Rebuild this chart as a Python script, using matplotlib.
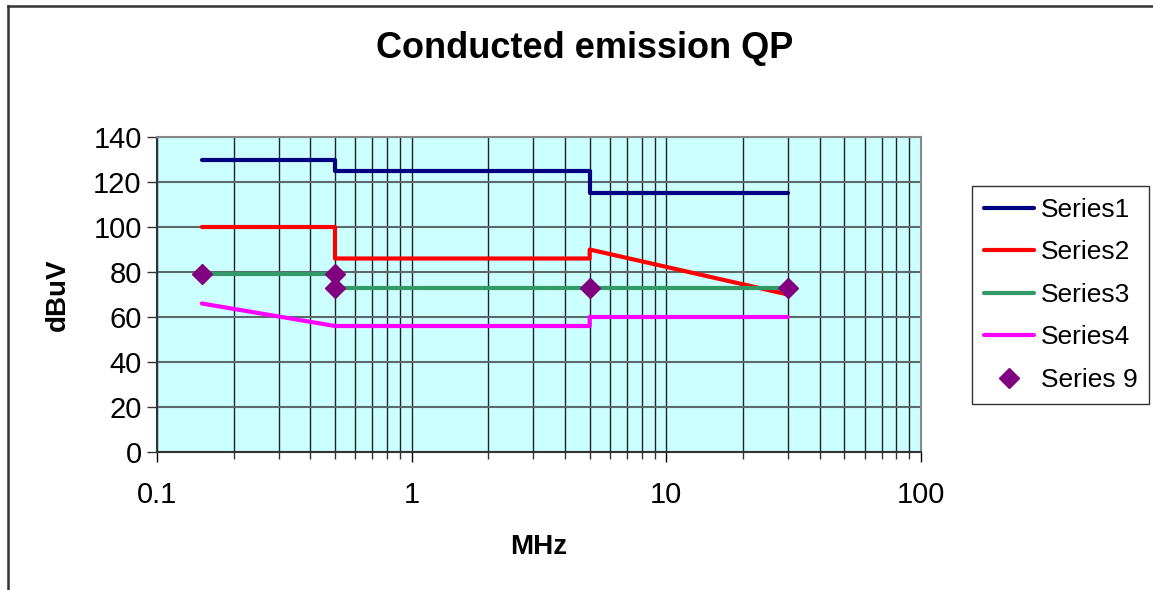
import matplotlib.pyplot as plt
from matplotlib.lines import Line2D
from matplotlib.ticker import LogLocator, NullFormatter

plt.rcParams['font.family'] = ['Liberation Sans', 'DejaVu Sans']

# Limit lines (frequency in MHz, level in dBuV)
s1_f = [0.15, 0.5, 0.5, 5, 5, 30]
s1_v = [130, 130, 125, 125, 115, 115]
s2_f = [0.15, 0.5, 0.5, 5, 5, 30]
s2_v = [100, 100, 86, 86, 90, 70]
s3_f = [0.15, 0.5, 0.5, 5, 30]
s3_v = [79, 79, 73, 73, 73]
s4_f = [0.15, 0.5, 5, 5, 30]
s4_v = [66, 56, 56, 60, 60]
s9_f = [0.15, 0.5, 0.5, 5, 30]
s9_v = [79, 79, 73, 73, 73]

y_ticks = [0, 20, 40, 60, 80, 100, 120, 140]
x_ticks = [0.1, 1, 10, 100]
x_tick_labels = ['0.1', '1', '10', '100']

fig = plt.figure(figsize=(11.53, 5.9), dpi=100)
ax = fig.add_axes([157 / 1153, 1 - 452 / 590, (921 - 157) / 1153, (452 - 137) / 590])
ax.set_facecolor('#ccffff')

# Outer chart frame (only top and left visible in the crop)
fig.add_artist(Line2D([8 / 1153, 1], [1 - 6 / 590, 1 - 6 / 590], color='#333333', lw=1.8))
fig.add_artist(Line2D([8 / 1153, 8 / 1153], [0, 1 - 6 / 590], color='#333333', lw=1.8))

ax.plot(s1_f, s1_v, color='#000080', lw=3, solid_capstyle='round', label='Series1', zorder=3)
ax.plot(s2_f, s2_v, color='#ff0000', lw=3, solid_capstyle='round', label='Series2', zorder=3)
ax.plot(s3_f, s3_v, color='#339966', lw=3, solid_capstyle='round', label='Series3', zorder=3)
ax.plot(s4_f, s4_v, color='#ff00ff', lw=3, solid_capstyle='round', label='Series4', zorder=3)
ax.plot(s9_f, s9_v, 'D', color='#800080', markersize=10, ls='none', label='Series 9', zorder=4)

ax.set_xscale('log')
ax.set_xlim(0.1, 100)
ax.set_ylim(0, 140)
ax.set_yticks(y_ticks)
ax.set_xticks(x_ticks)
ax.set_xticklabels(x_tick_labels)
ax.xaxis.set_minor_locator(LogLocator(base=10, subs=range(2, 10)))
ax.xaxis.set_minor_formatter(NullFormatter())

ax.grid(True, axis='y', color='#5a6a6a', lw=1.5, zorder=1)
ax.grid(True, axis='x', which='both', color='#222222', lw=1.0, zorder=1)
ax.set_axisbelow(True)

for side in ['top', 'right']:
    ax.spines[side].set_color('#888888')
    ax.spines[side].set_linewidth(1.5)
for side in ['left', 'bottom']:
    ax.spines[side].set_color('#333333')
    ax.spines[side].set_linewidth(1.5)

ax.tick_params(axis='y', labelsize=21, length=7, width=1, color='#333333', pad=4)
ax.tick_params(axis='x', which='major', labelsize=21, length=7, width=1, pad=14)
ax.tick_params(axis='x', which='minor', length=5, width=1, color='#333333')

ax.set_xlabel('MHz', fontsize=20, fontweight='bold', labelpad=18)
ax.set_ylabel('dBuV', fontsize=20, fontweight='bold', labelpad=16)
fig.text(585 / 1153, 1 - 48 / 590, 'Conducted emission QP', fontsize=26,
         fontweight='bold', ha='center', va='center')

leg = ax.legend(loc='upper left', bbox_to_anchor=(972 / 1153, 1 - 186 / 590),
                bbox_transform=fig.transFigure, fontsize=19, frameon=True,
                fancybox=False, edgecolor='black', handlelength=1.9,
                handletextpad=0.25, labelspacing=0.7, borderpad=0.45,
                borderaxespad=0)
leg.get_frame().set_linewidth(1.0)

fig.savefig('out.png', dpi=100)
